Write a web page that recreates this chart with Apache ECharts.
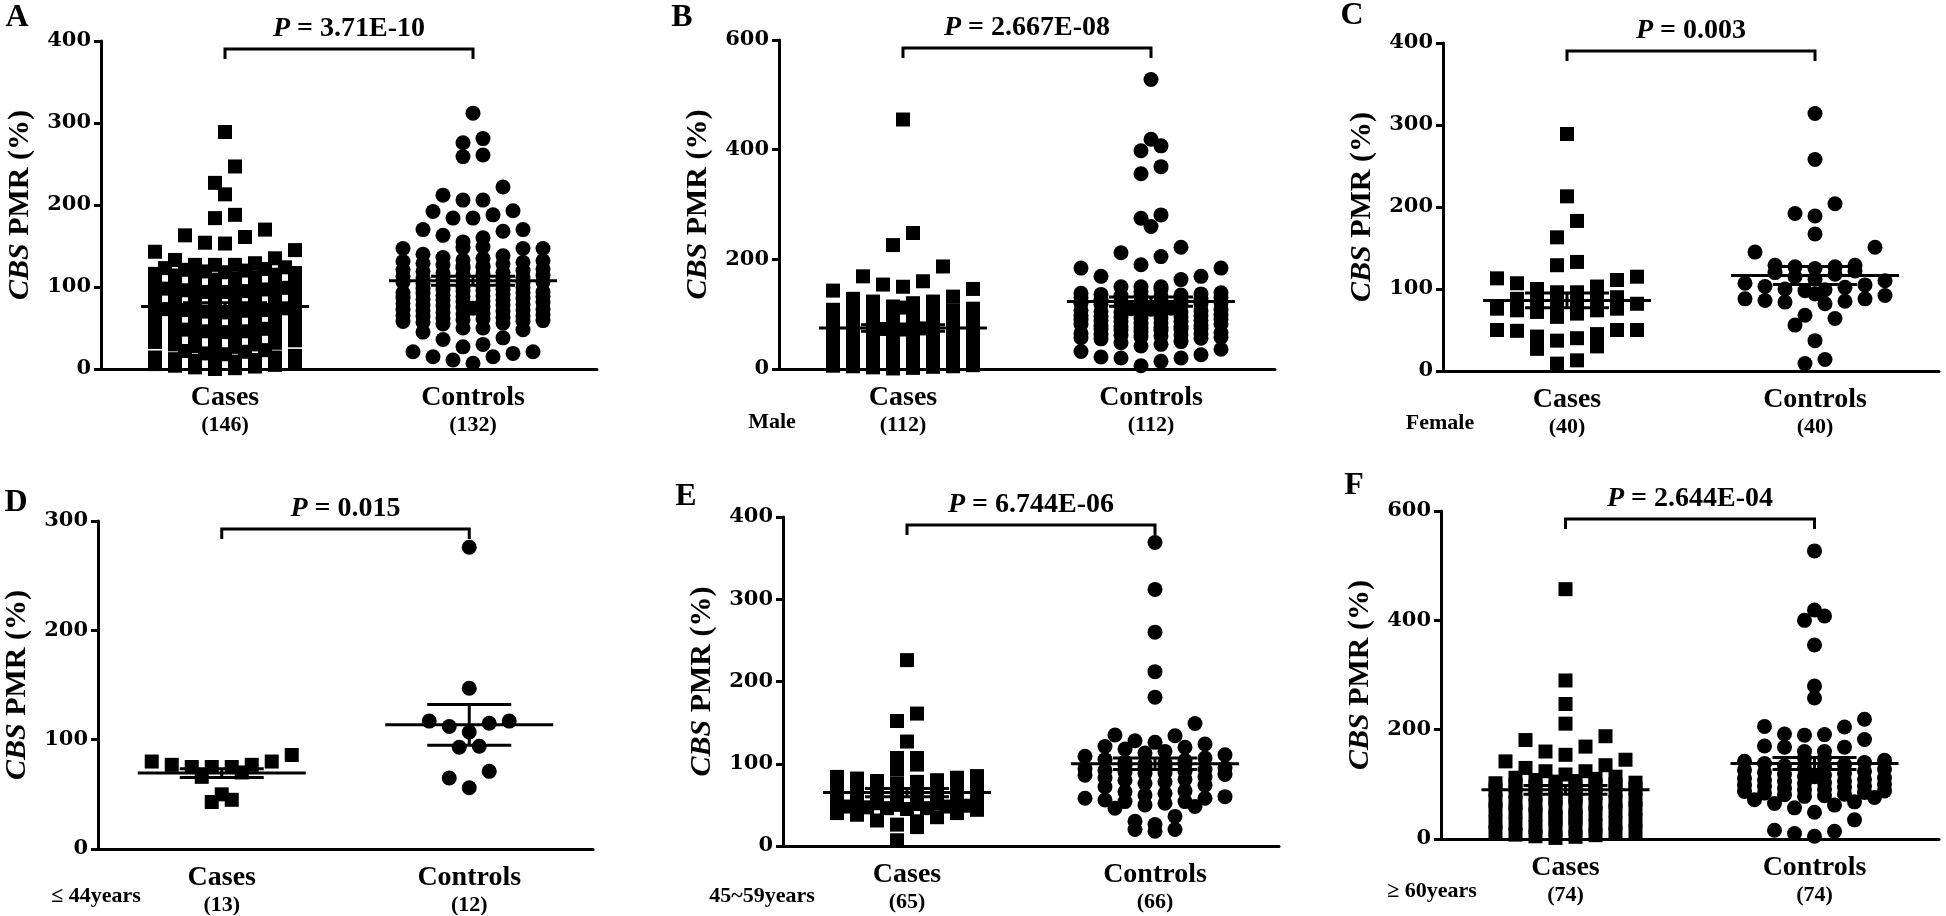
<!DOCTYPE html>
<html>
<head>
<meta charset="utf-8">
<title>CBS PMR</title>
<script src="https://cdn.jsdelivr.net/npm/echarts@6/dist/echarts.min.js"></script>
<style>
  html, body { margin: 0; padding: 0; background: #fff; }
  #cbsChart { width: 1946px; height: 916px; }
</style>
</head>
<body>
<div id="cbsChart"></div>
<script>
// CBS PMR (%) values
const aCases = [289, 247, 227, 213, 188, 184, 170, 163, 161, 154, 153, 145, 143, 135, 133, 129, 127, 127, 127,
  0, 1, 2, 3, 4, 5, 6, 8, 9, 9, 10, 11, 12, 14, 14, 16, 18, 19, 21, 22, 23, 25,
  27, 28, 30, 30, 32, 33, 35, 36, 36, 38, 39, 40, 41, 42, 44, 45, 46, 46, 48, 49, 50, 51, 52, 53, 53, 54, 55, 56,
  57, 58, 58, 59, 60, 61, 62, 62, 63, 64, 65, 65, 66, 67, 68, 68, 69, 70, 71, 72,
  72, 73, 74, 75, 75, 76, 77, 78, 78, 79, 80, 81, 81, 82, 83, 84, 84, 85, 86, 87,
  88, 88, 89, 90, 91, 92, 93, 94, 94, 95, 96, 97, 98, 99, 100, 101, 102,
  103, 104, 106, 107, 108, 109, 110, 111, 112, 114, 115, 116, 117, 118, 119, 120, 121, 122, 123, 124];
const aControls = [312, 281, 276, 261, 259, 222, 212, 206, 206, 193, 192, 188, 184, 184, 170, 170, 168, 163, 160, 155,
  149, 148, 147, 147, 147, 7, 11, 15, 15, 19, 21, 21, 27, 30, 36, 38, 45, 48, 50, 50,
  55, 56, 57, 58, 58, 59, 60, 61, 62, 63, 64, 64, 65, 66, 67, 68, 69, 70,
  71, 72, 73, 73, 74, 75, 76, 77, 78, 78, 79, 80, 81, 82, 83, 84, 84, 85,
  86, 87, 88, 88, 89, 90, 91, 92, 93, 93, 94, 95, 96, 97, 97, 98, 99, 100,
  101, 102, 103, 104, 105, 106, 106, 107, 108, 109, 110, 111, 112, 113, 114, 115,
  116, 117, 118, 119, 120, 121, 122, 123, 124, 125, 126, 127, 128, 129, 130, 131, 132, 133, 135, 136, 138, 140];
const bCases = [455, 248, 226, 187, 169, 160, 154, 150, 146, 143, 132, 128, 123, 123, 120,
  1, 2, 3, 4, 5, 5, 6, 7, 8, 9, 12, 14, 16, 18, 19, 21, 23, 24,
  26, 27, 29, 30, 31, 32, 34, 35, 36, 37, 38, 40, 41, 42, 43, 44, 45, 46, 47, 48, 49, 50, 51, 52, 53, 55,
  56, 57, 58, 59, 60, 61, 62, 63, 64, 65, 66, 67, 68, 69, 70, 71, 72, 73, 74, 75, 76, 77, 78, 79, 80, 81, 82, 83, 85,
  86, 87, 88, 89, 89, 90, 91, 92, 93, 94, 95, 96, 97, 98, 99, 100, 102, 104, 105, 107, 108, 110, 112, 114];
const bControls = [528, 419, 407, 398, 369, 356, 281, 275, 260, 222, 212, 205, 190, 184, 184, 169, 169, 163, 150, 150, 150, 145, 141,
  6, 14, 20, 20, 22, 26, 32, 36, 42, 45, 48, 50,
  55, 56, 57, 58, 59, 60, 61, 62, 63, 64, 65, 66, 68, 70, 71, 72, 73, 74, 75, 76, 77, 78, 79, 80, 81, 82, 83, 84,
  86, 87, 88, 89, 90, 91, 92, 93, 94, 95, 96, 97, 98, 99, 101, 102, 103, 104, 105, 106, 107, 108, 109, 110, 111, 113, 114,
  116, 117, 118, 119, 120, 121, 122, 123, 124, 126, 127, 129, 130, 131, 132, 133, 134, 135, 136, 137, 138, 139];
const cCases = [289, 213, 183, 163, 133, 129, 115, 113, 111, 107, 103, 100, 96, 96, 90, 88, 86, 85, 84, 82,
  82, 76, 76, 74, 74, 72, 70, 66, 50, 50, 50, 49, 45, 42, 40, 37, 30, 27, 13, 9];
const cControls = [314, 258, 204, 192, 189, 167, 151, 145, 129, 129, 127, 127, 125, 122, 120, 118, 115, 112, 110, 107,
  105, 103, 102, 100, 99, 98, 94, 92, 88, 88, 86, 85, 84, 82, 68, 64, 56, 37, 14, 9];
const dCases = [86, 80, 80, 77, 77, 75, 75, 75, 70, 66, 50, 45, 43];
const dControls = [276, 147, 117, 117, 115, 112, 107, 94, 93, 71, 65, 56];
const eCases = [226, 161, 152, 127, 107, 107, 99, 93, 85, 84, 83, 82, 80, 79, 78, 76,
  45, 46, 47, 48, 49, 50, 51, 52, 53, 54, 55, 55, 56, 57, 57, 58, 59, 59, 60, 61, 61, 62, 62, 63, 63,
  64, 64, 65, 65, 66, 67, 68, 69, 70, 72, 53, 52, 48, 46, 44, 40, 40, 38, 35, 31, 30, 26, 23, 7];
const eControls = [369, 312, 260, 212, 181, 149, 135, 134, 128, 126, 124, 121, 120, 118, 115, 113,
  72, 74, 76, 78, 80, 81, 83, 84, 86, 87, 88, 89, 90, 91, 92, 93, 94, 95, 96, 97, 98, 99, 100, 101, 102, 104, 105, 107, 109, 111,
  67, 66, 64, 62, 60, 58, 58, 56, 54, 54, 52, 50, 48, 46, 36, 30, 26, 20, 20, 18];
const fCases = [457, 290, 247, 211, 188, 181, 169, 160, 154, 145, 142, 135, 130, 124, 124, 118,
  2, 4, 5, 7, 8, 10, 12, 14, 17, 19, 22, 24, 27, 29, 31, 34, 36, 38, 41, 43, 45, 47, 50, 52, 54,
  56, 58, 60, 62, 64, 66, 68, 70, 72, 74, 76, 78, 80, 82, 84, 86, 88, 90, 92, 94,
  95, 96, 98, 99, 100, 102, 103, 105, 106, 108, 110, 112, 114];
const fControls = [527, 419, 408, 400, 355, 280, 258, 219, 206, 205, 192, 191, 190, 182, 170, 168, 168, 160, 160, 148, 148,
  72, 68, 65, 62, 57, 49, 35, 16, 14, 10, 5,
  76, 78, 79, 81, 82, 84, 85, 87, 88, 90, 91, 93, 94, 96, 97, 99, 100, 102, 103, 105, 106,
  108, 109, 111, 112, 114, 115, 117, 118, 120, 122, 124, 126, 128, 130, 132, 134, 136, 138, 140, 142, 144];

const groups = ['Cases', 'Controls'];
const letters = ['A', 'B', 'C', 'D', 'E', 'F'];
const pValues = ['3.71E-10', '2.667E-08', '0.003', '0.015', '6.744E-06', '2.644E-04'];
const counts = [[146, 132], [112, 112], [40, 40], [13, 12], [65, 66], [74, 74]];
const means = [[76.2, 107.5], [74.7, 123], [86, 116.5], [69.5, 113.6], [65, 100], [90, 138]];
const sems = [[4.5, 5.5], [6, 8.5], [9, 11], [4, 18.6], [5, 7], [8, 11]];
const subgroups = ['', 'Male', 'Female', '≤ 44years', '45~59years', '≥ 60years'];
const yMax = [400, 600, 400, 300, 400, 600];
const yStep = [100, 200, 100, 100, 100, 200];

const panelData = [[aCases, aControls], [bCases, bControls], [cCases, cControls],
  [dCases, dControls], [eCases, eControls], [fCases, fControls]];

// pixel layout of the six plots
const layout = [
  { left: 101, top: 41, width: 496, height: 328, bin: 25, binStart: 0, letter: [17, 18], sub: null },
  { left: 779, top: 40, width: 496, height: 329, bin: 37.5, binStart: 0, letter: [682, 18], sub: [772, 422] },
  { left: 1443, top: 43, width: 496, height: 328, bin: 30, binStart: 5, letter: [1352, 16], sub: [1440, 423] },
  { left: 98, top: 521, width: 495, height: 328, bin: 25, binStart: 0, letter: [16, 503], sub: [96, 896] },
  { left: 783, top: 517, width: 496, height: 329, bin: 25, binStart: 0, letter: [686, 497], sub: [762, 896] },
  { left: 1441, top: 511, width: 498, height: 328, bin: 37.5, binStart: 2, letter: [1354, 486], sub: [1432, 891] }
];

const FONT = '"Liberation Serif", "Times New Roman", serif';
const TICK_FONT = '"DejaVu Serif", "Liberation Serif", serif';
const SPACING = 20;
const MAX_COLS = 8;
const MARK = 14;
const MEAN_HALF = 84;
const SEM_HALF = 42;
const LW = 3;

// column scatter: values binned into rows, each row spread out from the centre
function swarm(values, cat, bin, binStart, colStep) {
  const sorted = values.slice().sort((a, b) => a - b);
  const rows = {};
  sorted.forEach(v => {
    const k = Math.floor((v - binStart) / bin);
    (rows[k] = rows[k] || []).push(v);
  });
  const out = [];
  Object.keys(rows).forEach(k => {
    const row = rows[k];
    for (let s = 0; s < row.length; s += MAX_COLS) {
      const chunk = row.slice(s, s + MAX_COLS);
      const n = chunk.length;
      chunk.forEach((v, i) => {
        let slot;
        if (n % 2) slot = i === 0 ? 0 : Math.ceil(i / 2) * (i % 2 ? -1 : 1);
        else slot = (Math.floor(i / 2) + 0.5) * (i % 2 ? 1 : -1);
        out.push([cat + slot * colStep, v]);
      });
    }
  });
  return out;
}

const boldText = { fontFamily: FONT, fontWeight: 'bold', color: '#000' };

const grids = [], xAxes = [], yAxes = [], series = [], graphics = [];

layout.forEach((p, i) => {
  grids.push({ left: p.left, top: p.top, width: p.width, height: p.height, containLabel: false, outerBoundsMode: 'none' });

  xAxes.push({
    type: 'category', gridIndex: i, data: groups, boundaryGap: true,
    axisLine: { onZero: false, lineStyle: { color: '#000', width: LW } },
    axisTick: { alignWithLabel: true, length: 10, lineStyle: { color: '#000', width: LW } },
    axisLabel: {
      margin: 14,
      formatter: (v, idx) => '{a|' + v + '}\n{b|(' + counts[i][idx] + ')}',
      rich: {
        a: Object.assign({ fontSize: 28, lineHeight: 30 }, boldText),
        b: Object.assign({ fontSize: 22, lineHeight: 24 }, boldText)
      }
    },
    splitLine: { show: false }
  });
  xAxes.push({ type: 'value', gridIndex: i, min: -0.5, max: 1.5, show: false });

  yAxes.push({
    type: 'value', gridIndex: i, min: 0, max: yMax[i], interval: yStep[i],
    axisLine: { show: true, onZero: false, lineStyle: { color: '#000', width: LW } },
    axisTick: { show: true, length: 7, lineStyle: { color: '#000', width: LW } },
    axisLabel: { fontSize: 21, margin: 10, fontFamily: TICK_FONT, fontWeight: 'bold', color: '#000' },
    splitLine: { show: false },
    name: '{i|CBS} PMR (%)',
    nameLocation: 'middle',
    nameRotate: 90,
    nameGap: 66,
    nameTextStyle: Object.assign({
      fontSize: 30,
      rich: { i: Object.assign({ fontSize: 30, fontStyle: 'italic' }, boldText) }
    }, boldText)
  });

  const colStep = SPACING / (p.width / 2);
  const [cases, controls] = panelData[i];

  series.push({
    type: 'scatter', xAxisIndex: 2 * i + 1, yAxisIndex: i,
    symbol: 'rect', symbolSize: MARK, clip: false,
    itemStyle: { color: '#000', opacity: 1 },
    data: swarm(cases, 0, p.bin, p.binStart, colStep)
  });
  series.push({
    type: 'scatter', xAxisIndex: 2 * i + 1, yAxisIndex: i,
    symbol: 'circle', symbolSize: MARK + 1, clip: false,
    itemStyle: { color: '#000', opacity: 1 },
    data: swarm(controls, 1, p.bin, p.binStart, colStep)
  });

  // mean with SEM
  series.push({
    type: 'custom', xAxisIndex: 2 * i + 1, yAxisIndex: i, z: 5,
    data: [[0, means[i][0], sems[i][0]], [1, means[i][1], sems[i][1]]],
    renderItem: function (params, api) {
      const x = api.value(0), m = api.value(1), e = api.value(2);
      const c = api.coord([x, m]);
      const hi = api.coord([x, m + e])[1];
      const lo = api.coord([x, m - e])[1];
      const st = { stroke: '#000', lineWidth: LW };
      return {
        type: 'group', children: [
          { type: 'line', shape: { x1: c[0] - MEAN_HALF, y1: c[1], x2: c[0] + MEAN_HALF, y2: c[1] }, style: st },
          { type: 'line', shape: { x1: c[0], y1: hi, x2: c[0], y2: lo }, style: st },
          { type: 'line', shape: { x1: c[0] - SEM_HALF, y1: hi, x2: c[0] + SEM_HALF, y2: hi }, style: st },
          { type: 'line', shape: { x1: c[0] - SEM_HALF, y1: lo, x2: c[0] + SEM_HALF, y2: lo }, style: st }
        ]
      };
    }
  });

  // bracket and P value
  series.push({
    type: 'custom', xAxisIndex: 2 * i + 1, yAxisIndex: i, z: 5,
    data: [[0.5, 0]],
    renderItem: function (params, api) {
      const x1 = api.coord([0, 0])[0], x2 = api.coord([1, 0])[0];
      const y = params.coordSys.y + 8;
      return {
        type: 'group', children: [
          { type: 'polyline', shape: { points: [[x1, y + 10], [x1, y], [x2, y], [x2, y + 10]] },
            style: { stroke: '#000', lineWidth: LW, fill: null } },
          { type: 'text', x: (x1 + x2) / 2, y: y - 20,
            style: {
              text: '{i|P} = ' + pValues[i],
              fill: '#000', fontFamily: FONT, fontWeight: 'bold', fontSize: 28,
              align: 'center', verticalAlign: 'middle', textAlign: 'center', textVerticalAlign: 'middle',
              rich: { i: { fill: '#000', fontFamily: FONT, fontWeight: 'bold', fontStyle: 'italic', fontSize: 28 } }
            } }
        ]
      };
    }
  });

  graphics.push({
    type: 'text', x: p.letter[0], y: p.letter[1],
    style: { text: letters[i], fill: '#000', font: 'bold 32px ' + FONT,
      align: 'center', verticalAlign: 'middle', textAlign: 'center', textVerticalAlign: 'middle' }
  });
  if (p.sub) {
    graphics.push({
      type: 'text', x: p.sub[0], y: p.sub[1],
      style: { text: subgroups[i], fill: '#000', font: 'bold 22px ' + FONT,
        align: 'center', verticalAlign: 'middle', textAlign: 'center', textVerticalAlign: 'middle' }
    });
  }
});

const option = {
  backgroundColor: '#fff',
  animation: false,
  grid: grids,
  xAxis: xAxes,
  yAxis: yAxes,
  series: series,
  graphic: graphics
};

const myChart = echarts.init(document.getElementById('cbsChart'));
myChart.setOption(option, true);
</script>
</body>
</html>
